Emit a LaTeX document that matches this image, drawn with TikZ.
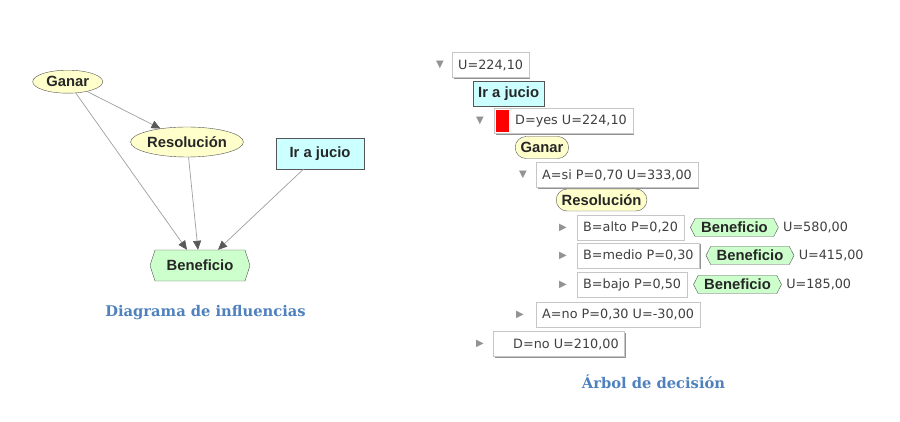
\documentclass[tikz,border=0pt]{standalone}
\usepackage{fontspec}
\newfontfamily\labfont{Liberation Sans}
\newfontfamily\treefont{DejaVu Sans}
\newfontfamily\titlefont{DejaVu Serif}
\usetikzlibrary{shapes.geometric,shapes.misc,shapes.symbols,arrows.meta,shadows,positioning}
\definecolor{ttl}{HTML}{4F81BD}
\definecolor{chance}{HTML}{FFFFCC}
\definecolor{decis}{HTML}{CCFFFF}
\definecolor{util}{HTML}{CCFFCC}
\definecolor{edgec}{HTML}{555555}
\tikzset{
  lab/.style={font=\labfont\bfseries\fontsize{14.8}{16}\selectfont, text=black!85},
  chancenode/.style={lab, ellipse, draw=edgec, fill=chance, inner sep=0pt},
  decnode/.style={lab, rectangle, draw=edgec, fill=decis, minimum width=88, minimum height=31},
  utilnode/.style={lab, signal, signal to=west and east, signal pointer angle=144, draw=edgec, fill=util, minimum width=100, minimum height=31},
  arr/.style={draw=gray!75, line width=0.7pt, -{Triangle[length=9pt,width=8pt,color=black!65]}},
  tt/.style={font=\treefont\fontsize{12.8}{15}\selectfont, text=black!75},
  tbox/.style={tt, draw=gray!45, fill=white, minimum height=25, inner xsep=6, anchor=west,
    drop shadow={shadow xshift=1.3pt, shadow yshift=-1.3pt, fill=gray!85, opacity=1}},
  marker/.style={font=\treefont\fontsize{10}{10}\selectfont, text=gray!85, inner sep=0pt},
  tpill/.style={lab, rounded rectangle, draw=edgec, fill=chance, minimum height=22, inner xsep=4, inner ysep=1, anchor=west},
  thex/.style={lab, signal, signal to=west and east, signal pointer angle=125, draw=edgec, fill=util, minimum height=18, inner ysep=0.5, inner xsep=6},
  tdec/.style={lab, draw=edgec, fill=decis, minimum height=25, inner xsep=5, anchor=west},
  ttitle/.style={font=\titlefont\bfseries\fontsize{14.7}{18}\selectfont, text=ttl}
}
\begin{document}
\begin{tikzpicture}[x=1pt,y=-1pt]
\useasboundingbox[fill=white] (0,0) rectangle (900,422);
% ---------- influence diagram ----------
\node[chancenode, minimum width=70, minimum height=23] (G) at (67.7,81.7) {Ganar};
\node[chancenode, minimum width=108, minimum height=30] (R) at (187,142) {Resolución};
\node[decnode] (I) at (320,153.5) {Ir a jucio};
\node[utilnode] (B) at (200,265.5) {Beneficio};
\draw[arr] (G) -- (R);
\draw[arr] (G) -- ([xshift=-13]B.north);
\draw[arr] (R) -- ([xshift=-2]B.north);
\draw[arr] (I) -- ([xshift=18]B.north);
\node[ttitle] (T1) at (205.5,313) {Diagrama de influencias};
% ---------- decision tree ----------
\node[marker] (m0) at (440,65) {▼};
\node[tbox] (t0) at (452,65) {U=224,10};
\node[tdec] (tI) at (473,93.5) {Ir a jucio};
\node[marker] (m1) at (480,121) {▼};
\node[tbox] (t1) at (494,121) {\hspace{15pt}D=yes U=224,10};
\node[fill=red, minimum width=13, minimum height=22, inner sep=0pt, anchor=west] (red) at (496,121) {};
\node[tpill] (tG) at (515,147.5) {Ganar};
\node[marker] (m2) at (523,175) {▼};
\node[tbox] (t2) at (536,175) {A=si P=0,70 U=333,00};
\node[tpill] (tR) at (556,200) {Resolución};
\node[marker] (m3) at (563,228) {▶};
\node[tbox] (b1) at (577,227.5) {B=alto P=0,20};
\node[thex, right=6pt of b1] (h1) {Beneficio};
\node[tt, right=1pt of h1] (u1) {U=580,00};
\node[marker] (m4) at (563,256) {▶};
\node[tbox] (b2) at (577,255.5) {B=medio P=0,30};
\node[thex, right=6pt of b2] (h2) {Beneficio};
\node[tt, right=1pt of h2] (u2) {U=415,00};
\node[marker] (m5) at (563,285) {▶};
\node[tbox] (b3) at (577,284.5) {B=bajo P=0,50};
\node[thex, right=6pt of b3] (h3) {Beneficio};
\node[tt, right=1pt of h3] (u3) {U=185,00};
\node[marker] (m6) at (520,315) {▶};
\node[tbox] (t3) at (536,314.5) {A=no P=0,30 U=-30,00};
\node[marker] (m7) at (480,344) {▶};
\node[tbox] (t4) at (493,344) {\hspace{14pt}D=no U=210,00};
\node[ttitle] (T2) at (653.5,382) {Árbol de decisión};
\end{tikzpicture}
\end{document}
